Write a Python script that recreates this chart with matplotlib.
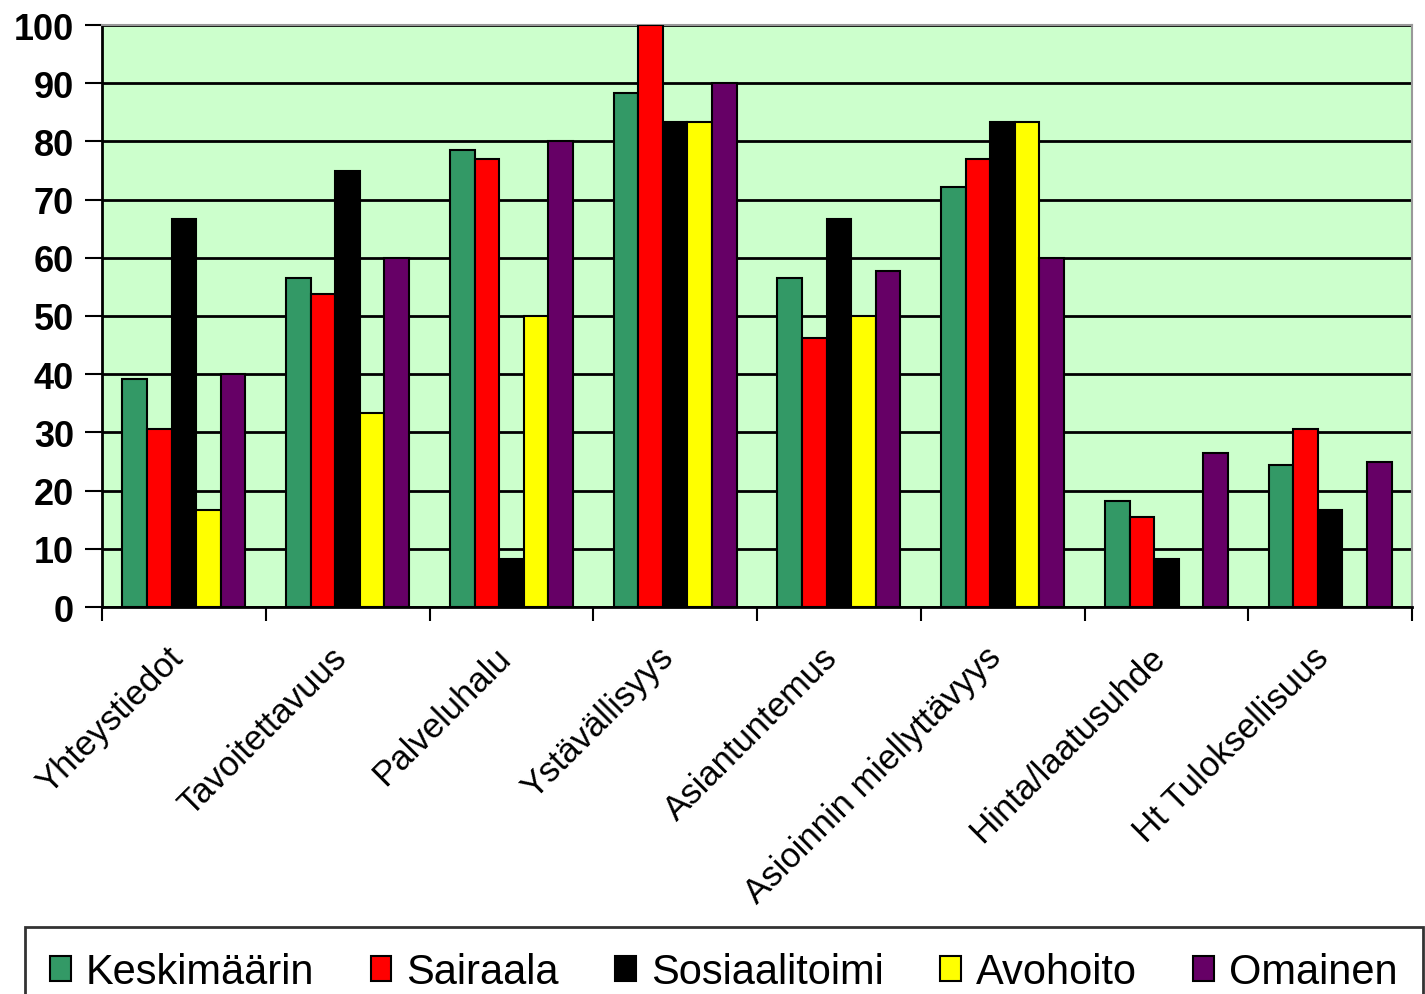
import matplotlib
matplotlib.use("Agg")
import matplotlib.pyplot as plt
import matplotlib.transforms as mtransforms
import numpy as np
from matplotlib.patches import Patch

categories = ["Yhteystiedot", "Tavoitettavuus", "Palveluhalu", "Ystävällisyys",
              "Asiantuntemus", "Asioinnin miellyttävyys", "Hinta/laatusuhde",
              "Ht Tuloksellisuus"]
series_names = ["Keskimäärin", "Sairaala", "Sosiaalitoimi", "Avohoito", "Omainen"]
keskimaarin = [39.2, 56.5, 78.6, 88.4, 56.5, 72.1, 18.2, 24.4]
sairaala = [30.6, 53.8, 76.9, 100.0, 46.2, 76.9, 15.4, 30.6]
sosiaalitoimi = [66.7, 75.0, 8.3, 83.3, 66.7, 83.3, 8.3, 16.7]
avohoito = [16.7, 33.3, 50.0, 83.3, 50.0, 83.3, 0.0, 0.0]
omainen = [40.0, 60.0, 80.0, 90.0, 57.7, 60.0, 26.4, 25.0]
series = [keskimaarin, sairaala, sosiaalitoimi, avohoito, omainen]
colors = ["#339966", "#FF0000", "#000000", "#FFFF00", "#660066"]
yticks = [0, 10, 20, 30, 40, 50, 60, 70, 80, 90, 100]

plt.rcParams['font.family'] = ['Liberation Sans', 'DejaVu Sans']

fig = plt.figure(figsize=(14.25, 9.95), dpi=100)
ax = fig.add_axes([102/1425, 1-608/995, (1412-102)/1425, (608-26)/995])
ax.set_facecolor("#CCFFCC")

n = len(categories)
x = np.arange(n)
w = 0.15
for i, (vals, c) in enumerate(zip(series, colors)):
    ax.bar(x + (i - 2) * w, vals, width=w, color=c, edgecolor="black",
           linewidth=1.5, zorder=3)

ax.set_xlim(-0.5, n - 0.5)
ax.set_ylim(0, 100)
ax.set_yticks(yticks)
ax.set_yticklabels([str(t) for t in yticks], fontsize=26, fontweight="bold")
ax.yaxis.grid(True, color="black", linewidth=2, zorder=1)
ax.set_axisbelow(True)

ax.set_xticks(np.arange(n + 1) - 0.5)
ax.set_xticklabels([])
ax.set_xticks(x, minor=True)
ax.set_xticklabels(categories, minor=True, rotation=45, ha="right",
                   rotation_mode="anchor", fontsize=25)
ax.tick_params(axis="x", which="minor", length=0, pad=24)
ax.tick_params(axis="x", which="major", length=10, width=1.5, direction="out")
ax.tick_params(axis="y", length=12, width=1.5, direction="out", pad=8)
offset = mtransforms.ScaledTranslation(-18/100, 0, fig.dpi_scale_trans)
for lab in ax.get_xticklabels(minor=True):
    lab.set_transform(lab.get_transform() + offset)

for s in ["left", "bottom"]:
    ax.spines[s].set_color("black")
    ax.spines[s].set_linewidth(2)
for s in ["top", "right"]:
    ax.spines[s].set_color("#999999")
    ax.spines[s].set_linewidth(1.5)

handles = [Patch(facecolor=c, edgecolor="black", linewidth=1.5) for c in colors]
leg = fig.legend(handles, series_names, loc="upper left",
                 bbox_to_anchor=(25/1425, 1-928/995), ncol=5, fontsize=30,
                 frameon=True, fancybox=False, edgecolor="black",
                 handlelength=0.5, handleheight=0.55, handletextpad=0.36,
                 columnspacing=1.35, borderpad=0.6, borderaxespad=0)
leg.get_frame().set_linewidth(2)

fig.savefig("out.png", dpi=100, facecolor="white")
